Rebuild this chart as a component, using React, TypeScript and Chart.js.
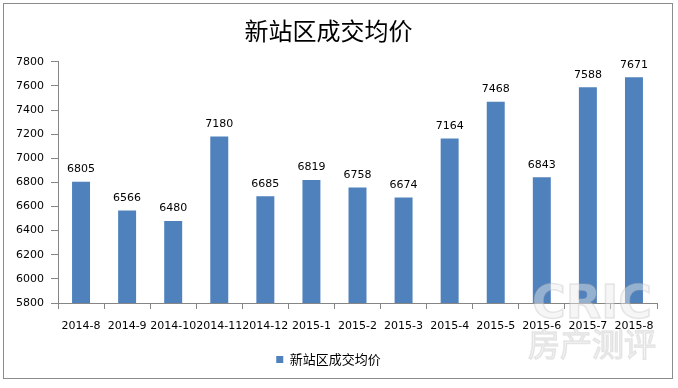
import React, { useEffect, useRef } from 'react';
import { Chart, registerables } from 'chart.js';

Chart.register(...registerables);

const chartTitle = '新站区成交均价';
const seriesName = '新站区成交均价';
const categories = ['2014-8', '2014-9', '2014-10', '2014-11', '2014-12', '2015-1', '2015-2', '2015-3', '2015-4', '2015-5', '2015-6', '2015-7', '2015-8'];
const avgPrice = [6805, 6566, 6480, 7180, 6685, 6819, 6758, 6674, 7164, 7468, 6843, 7588, 7671];
const yMin = 5800;
const yMax = 7800;
const yStep = 200;
const watermarkTop = 'CRIC';
const watermarkBottom = '房产测评';

const BAR_COLOR = '#4F81BD';
const AXIS_COLOR = '#868686';
const TICK_FONT = '"DejaVu Sans", Verdana, sans-serif';
const CJK_FONT = '"Noto Sans CJK SC", sans-serif';

const framePlugin = {
  id: 'frame',
  beforeDraw(chart: any) {
    const { ctx, width, height } = chart;
    ctx.save();
    ctx.fillStyle = '#ffffff';
    ctx.fillRect(0, 0, width, height);
    ctx.restore();
  },
  afterDraw(chart: any) {
    const { ctx } = chart;
    ctx.save();
    ctx.strokeStyle = '#8c8c8c';
    ctx.lineWidth = 1;
    ctx.strokeRect(3.5, 3.5, 669, 375);
    ctx.restore();
  },
};

const watermarkPlugin = {
  id: 'watermark',
  afterDraw(chart: any) {
    const { ctx } = chart;
    ctx.save();
    ctx.textAlign = 'center';
    ctx.textBaseline = 'middle';
    ctx.font = 'bold 46px "DejaVu Sans", sans-serif';
    ctx.strokeStyle = 'rgba(180,180,180,0.3)';
    ctx.lineWidth = 1.5;
    ctx.fillStyle = 'rgba(235,235,235,0.45)';
    ctx.fillText(watermarkTop, 592, 306);
    ctx.strokeText(watermarkTop, 592, 306);
    ctx.font = '32px "Noto Sans CJK SC", sans-serif';
    ctx.fillText(watermarkBottom, 592, 344);
    ctx.strokeText(watermarkBottom, 592, 344);
    ctx.restore();
  },
};

const dataLabelPlugin = {
  id: 'dataLabels',
  afterDatasetsDraw(chart: any) {
    const { ctx } = chart;
    const meta = chart.getDatasetMeta(0);
    const values = chart.data.datasets[0].data as number[];
    ctx.save();
    ctx.font = `11px ${TICK_FONT}`;
    ctx.fillStyle = '#000000';
    ctx.textAlign = 'center';
    ctx.textBaseline = 'bottom';
    meta.data.forEach((bar: any, i: number) => {
      ctx.fillText(String(values[i]), bar.x, bar.y - 7);
    });
    ctx.restore();
  },
};

export default function App() {
  const canvasRef = useRef<HTMLCanvasElement | null>(null);

  useEffect(() => {
    document.body.style.margin = '0';
    const canvas = canvasRef.current;
    if (!canvas) return;
    const chart = new Chart(canvas, {
      type: 'bar',
      data: {
        labels: categories,
        datasets: [
          {
            label: seriesName,
            data: avgPrice,
            backgroundColor: BAR_COLOR,
            borderWidth: 0,
            barPercentage: 0.5,
            categoryPercentage: 0.78,
          },
        ],
      },
      options: {
        animation: false,
        responsive: false,
        maintainAspectRatio: false,
        devicePixelRatio: 1,
        layout: { padding: { left: 0, right: 21, top: 0, bottom: 12 } },
        plugins: {
          title: {
            display: true,
            text: chartTitle,
            color: '#000000',
            font: { family: CJK_FONT, size: 24, weight: 'normal' },
            padding: { top: 16, bottom: 17 },
          },
          legend: {
            display: true,
            position: 'bottom',
            labels: {
              boxWidth: 7,
              boxHeight: 7,
              padding: 10,
              color: '#000000',
              font: { family: CJK_FONT, size: 13 },
            },
          },
          tooltip: { enabled: false },
        },
        scales: {
          x: {
            grid: {
              display: true,
              drawOnChartArea: false,
              drawTicks: true,
              tickLength: 6,
              color: AXIS_COLOR,
              offset: true,
            },
            border: { display: true, color: AXIS_COLOR },
            ticks: {
              autoSkip: false,
              maxRotation: 0,
              minRotation: 0,
              color: '#000000',
              padding: 11,
              font: { family: TICK_FONT, size: 11 },
            },
            afterFit(scale: any) {
              scale.height = 40;
            },
          },
          y: {
            min: yMin,
            max: yMax,
            grid: {
              display: true,
              drawOnChartArea: false,
              drawTicks: true,
              tickLength: 7,
              color: AXIS_COLOR,
            },
            border: { display: true, color: AXIS_COLOR },
            ticks: {
              stepSize: yStep,
              color: '#000000',
              padding: 7,
              font: { family: TICK_FONT, size: 11 },
              callback: (value: any) => String(value),
            },
            afterFit(scale: any) {
              scale.width = 58;
            },
          },
        },
      },
      plugins: [framePlugin, dataLabelPlugin, watermarkPlugin],
    });
    return () => chart.destroy();
  }, []);

  return <canvas ref={canvasRef} width={678} height={388} style={{ display: 'block', width: 678, height: 388 }} />;
}
